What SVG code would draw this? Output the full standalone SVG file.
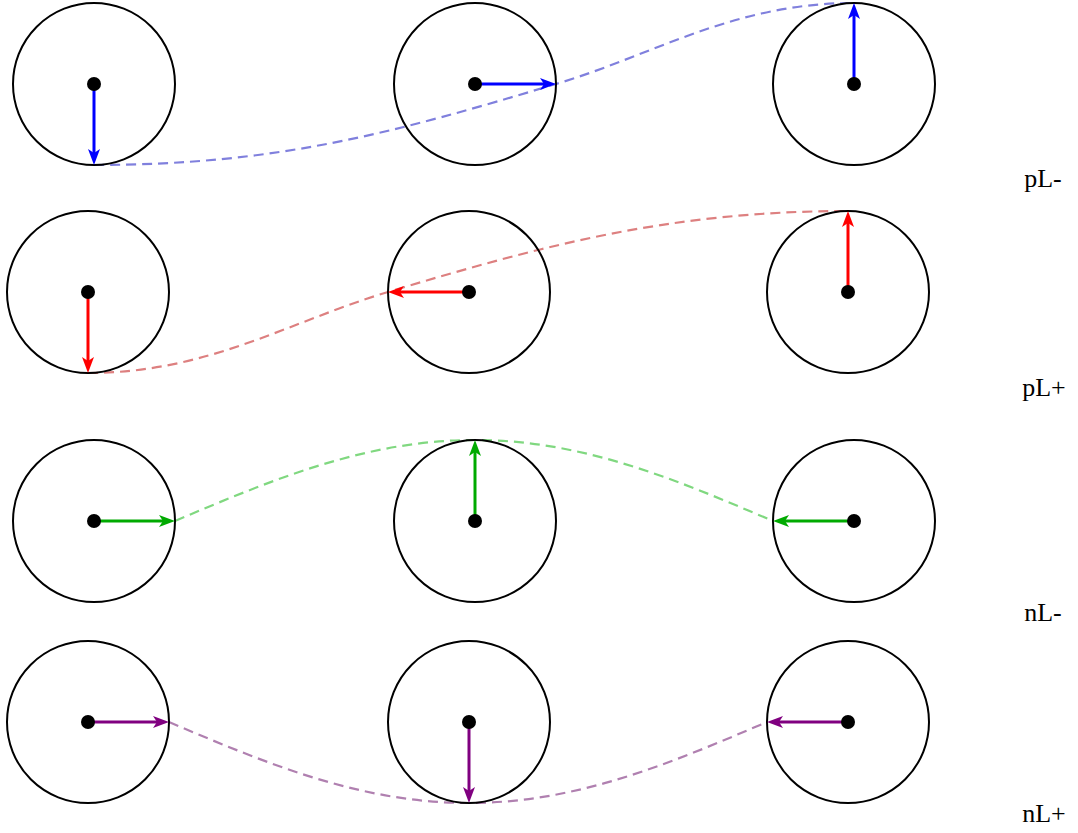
<svg xmlns="http://www.w3.org/2000/svg" width="1078" height="833" viewBox="0 0 1078 833">
<style>
.ring{fill:none;stroke:#000;stroke-width:2}
.dot{fill:#000}
.arr{stroke-width:3;fill:none}
.dash{fill:none;stroke-width:2.2;stroke-dasharray:10 6}
.lbl{font-family:"Liberation Serif","DejaVu Serif",serif;font-size:26px;fill:#000;text-anchor:middle}
</style>
<defs>
<marker id="hb" viewBox="0 0 16 12" refX="6" refY="6" markerWidth="16" markerHeight="12" markerUnits="userSpaceOnUse" orient="auto"><path d="M0,0 L16,6 L0,12 L4,6 Z" fill="#0000ff"/></marker>
<marker id="hr" viewBox="0 0 16 12" refX="6" refY="6" markerWidth="16" markerHeight="12" markerUnits="userSpaceOnUse" orient="auto"><path d="M0,0 L16,6 L0,12 L4,6 Z" fill="#ff0000"/></marker>
<marker id="hg" viewBox="0 0 16 12" refX="6" refY="6" markerWidth="16" markerHeight="12" markerUnits="userSpaceOnUse" orient="auto"><path d="M0,0 L16,6 L0,12 L4,6 Z" fill="#00aa00"/></marker>
<marker id="hp" viewBox="0 0 16 12" refX="6" refY="6" markerWidth="16" markerHeight="12" markerUnits="userSpaceOnUse" orient="auto"><path d="M0,0 L16,6 L0,12 L4,6 Z" fill="#800080"/></marker>
</defs>
<g id="connectors">
<path class="dash" stroke="#8080dd" d="M94,165 C279,165 396,132 556,84 C656,54 734,3 854,3"/>
<path class="dash" stroke="#dd8080" d="M88,373 C208,373 288,322 388,292 C538,247 668,211 848,211"/>
<path class="dash" stroke="#80d880" d="M175,521 C272.8,479.5 366.4,440 475,440 C582.8,440 675.8,479.5 773,521"/>
<path class="dash" stroke="#b080b0" d="M169,722 C266.8,763.5 360.4,803 469,803 C576.8,803 669.8,763.5 767,722"/>
</g>
<g id="r1c1"><circle class="ring" cx="94" cy="84" r="81"/><line class="arr" stroke="#0000ff" x1="94" y1="84" x2="94" y2="155" marker-end="url(#hb)"/><circle class="dot" cx="94" cy="84" r="7"/></g>
<g id="r1c2"><circle class="ring" cx="475" cy="84" r="81"/><line class="arr" stroke="#0000ff" x1="475" y1="84" x2="546" y2="84" marker-end="url(#hb)"/><circle class="dot" cx="475" cy="84" r="7"/></g>
<g id="r1c3"><circle class="ring" cx="854" cy="84" r="81"/><line class="arr" stroke="#0000ff" x1="854" y1="84" x2="854" y2="13" marker-end="url(#hb)"/><circle class="dot" cx="854" cy="84" r="7"/></g>
<g id="r2c1"><circle class="ring" cx="88" cy="292" r="81"/><line class="arr" stroke="#ff0000" x1="88" y1="292" x2="88" y2="363" marker-end="url(#hr)"/><circle class="dot" cx="88" cy="292" r="7"/></g>
<g id="r2c2"><circle class="ring" cx="469" cy="292" r="81"/><line class="arr" stroke="#ff0000" x1="469" y1="292" x2="398" y2="292" marker-end="url(#hr)"/><circle class="dot" cx="469" cy="292" r="7"/></g>
<g id="r2c3"><circle class="ring" cx="848" cy="292" r="81"/><line class="arr" stroke="#ff0000" x1="848" y1="292" x2="848" y2="221" marker-end="url(#hr)"/><circle class="dot" cx="848" cy="292" r="7"/></g>
<g id="r3c1"><circle class="ring" cx="94" cy="521" r="81"/><line class="arr" stroke="#00aa00" x1="94" y1="521" x2="165" y2="521" marker-end="url(#hg)"/><circle class="dot" cx="94" cy="521" r="7"/></g>
<g id="r3c2"><circle class="ring" cx="475" cy="521" r="81"/><line class="arr" stroke="#00aa00" x1="475" y1="521" x2="475" y2="450" marker-end="url(#hg)"/><circle class="dot" cx="475" cy="521" r="7"/></g>
<g id="r3c3"><circle class="ring" cx="854" cy="521" r="81"/><line class="arr" stroke="#00aa00" x1="854" y1="521" x2="783" y2="521" marker-end="url(#hg)"/><circle class="dot" cx="854" cy="521" r="7"/></g>
<g id="r4c1"><circle class="ring" cx="88" cy="722" r="81"/><line class="arr" stroke="#800080" x1="88" y1="722" x2="159" y2="722" marker-end="url(#hp)"/><circle class="dot" cx="88" cy="722" r="7"/></g>
<g id="r4c2"><circle class="ring" cx="469" cy="722" r="81"/><line class="arr" stroke="#800080" x1="469" y1="722" x2="469" y2="793" marker-end="url(#hp)"/><circle class="dot" cx="469" cy="722" r="7"/></g>
<g id="r4c3"><circle class="ring" cx="848" cy="722" r="81"/><line class="arr" stroke="#800080" x1="848" y1="722" x2="777" y2="722" marker-end="url(#hp)"/><circle class="dot" cx="848" cy="722" r="7"/></g>
<g id="labels">
<text class="lbl" x="1043" y="187">pL-</text>
<text class="lbl" x="1044" y="396">pL+</text>
<text class="lbl" x="1043" y="621">nL-</text>
<text class="lbl" x="1044" y="822">nL+</text>
</g>
</svg>
